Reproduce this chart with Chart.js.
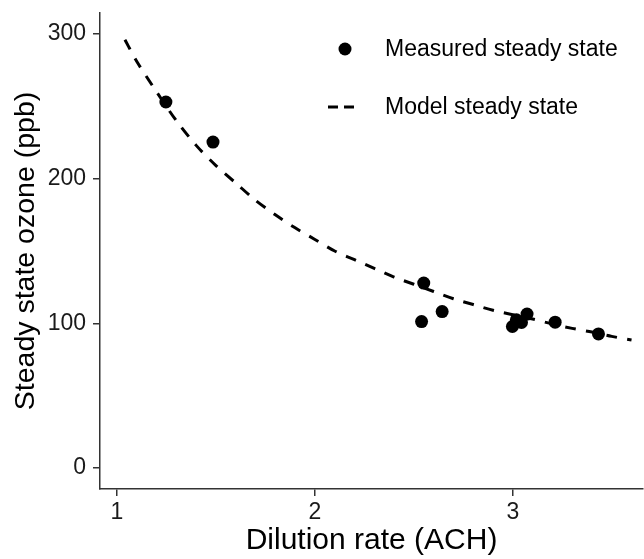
<!DOCTYPE html>
<html>
<head>
<meta charset="utf-8">
<script src="https://cdn.jsdelivr.net/npm/chart.js@4"></script>
<style>
  html, body { margin: 0; padding: 0; background: #fff; }
  #wrap { width: 644px; height: 559px; }
</style>
</head>
<body>
<div id="wrap"><canvas id="ozone"></canvas></div>
<script>
// measured steady state points
const measuredAch = [1.247, 1.485, 2.539, 2.55, 2.643, 2.998, 3.018, 3.044, 3.072, 3.214, 3.433];
const measuredPpb = [253, 225.3, 101.2, 127.8, 108.1, 97.8, 102.4, 100.6, 106.4, 100.8, 92.7];

// model curve
const modelAch = [1.04, 1.1, 1.2, 1.3, 1.4, 1.5, 1.6, 1.7, 1.8, 1.9, 2.0, 2.1, 2.2, 2.3, 2.4,
  2.5, 2.6, 2.7, 2.8, 2.9, 3.0, 3.1, 3.2, 3.3, 3.4, 3.5, 3.6];
const modelPpb = [296, 281, 260, 240, 223, 209, 197, 185, 175, 166, 158, 150, 144, 138, 132,
  127, 122, 117, 113, 109, 106, 103, 99.5, 96.5, 94, 91, 88.5];

const xTicks = [1, 2, 3];
const yTicks = [0, 100, 200, 300];
const legendLabels = ['Measured steady state', 'Model steady state'];

const FONT = '"Liberation Sans", Arial, sans-serif';

// legend drawn inside the panel, top right
const legendPlugin = {
  id: 'insideLegend',
  afterDraw(chart) {
    const ctx = chart.ctx;
    ctx.save();
    ctx.fillStyle = '#000';
    ctx.beginPath();
    ctx.arc(345, 49, 6.5, 0, Math.PI * 2);
    ctx.fill();

    ctx.strokeStyle = '#000';
    ctx.lineWidth = 3;
    ctx.setLineDash([10, 6]);
    ctx.beginPath();
    ctx.moveTo(328, 107);
    ctx.lineTo(354, 107);
    ctx.stroke();
    ctx.setLineDash([]);

    ctx.font = '23px ' + FONT;
    ctx.textBaseline = 'middle';
    ctx.textAlign = 'left';
    ctx.fillText(legendLabels[0], 385, 50);
    ctx.fillText(legendLabels[1], 385, 108);
    ctx.restore();
  }
};

new Chart(document.getElementById('ozone'), {
  type: 'scatter',
  data: {
    datasets: [
      {
        label: legendLabels[0],
        data: measuredAch.map((x, i) => ({ x, y: measuredPpb[i] })),
        backgroundColor: '#000',
        borderWidth: 0,
        pointRadius: 6.5,
        order: 1,
      },
      {
        label: legendLabels[1],
        data: modelAch.map((x, i) => ({ x, y: modelPpb[i] })),
        showLine: true,
        borderColor: '#000',
        borderWidth: 3,
        borderDash: [11, 10],
        pointRadius: 0,
        tension: 0.3,
        order: 2,
      },
    ],
  },
  options: {
    responsive: true,
    maintainAspectRatio: false,
    animation: false,
    layout: { autoPadding: false, padding: { top: 13, right: 1, left: 0, bottom: 0 } },
    plugins: {
      legend: { display: false },
      tooltip: { enabled: false },
    },
    scales: {
      x: {
        type: 'linear',
        min: 0.914,
        max: 3.658,
        afterFit: (s) => { s.height = 70; s.paddingLeft = 0; s.paddingRight = 0; },
        afterBuildTicks: (s) => { s.ticks = xTicks.map((v) => ({ value: v })); },
        border: { display: true, color: '#333', width: 1.5 },
        grid: { display: true, drawOnChartArea: false, drawTicks: true, tickLength: 7, color: '#333', lineWidth: 1.5 },
        ticks: { color: '#1a1a1a', font: { family: FONT, size: 23 }, padding: 3 },
        title: { display: true, text: 'Dilution rate (ACH)', color: '#000', font: { family: FONT, size: 30 }, padding: { top: 0, bottom: 0 } },
      },
      y: {
        type: 'linear',
        min: -14.5,
        max: 314.5,
        afterFit: (s) => { s.width = 100; s.paddingTop = 0; s.paddingBottom = 0; },
        afterBuildTicks: (s) => { s.ticks = yTicks.map((v) => ({ value: v })); },
        border: { display: true, color: '#333', width: 1.5 },
        grid: { display: true, drawOnChartArea: false, drawTicks: true, tickLength: 7, color: '#333', lineWidth: 1.5 },
        ticks: { color: '#1a1a1a', font: { family: FONT, size: 23 }, padding: 7 },
        title: { display: true, text: 'Steady state ozone (ppb)', color: '#000', font: { family: FONT, size: 28.5 }, padding: { top: 9, bottom: 0 } },
      },
    },
  },
  plugins: [legendPlugin],
});
</script>
</body>
</html>
